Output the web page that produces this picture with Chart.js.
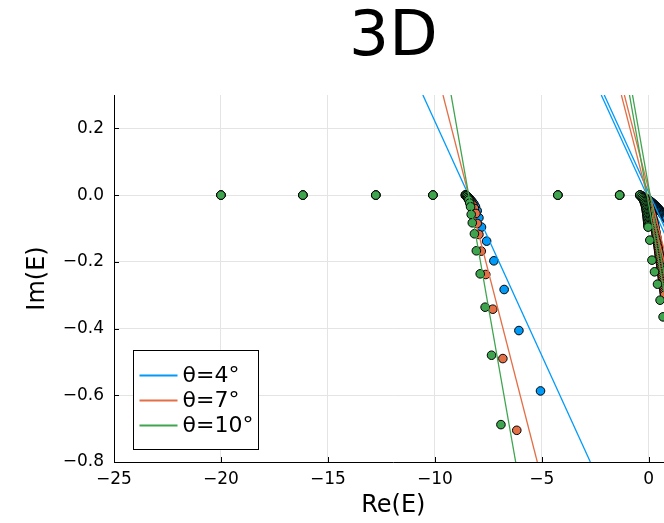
<!DOCTYPE html>
<html>
<head>
<meta charset="utf-8">
<title>3D</title>
<script src="https://cdn.jsdelivr.net/npm/chart.js@4.4.1/dist/chart.umd.min.js"></script>
<style>
  body { margin: 0; overflow: hidden; background: #fff; }
  #wrap { position: relative; width: 678px; height: 523px; }
</style>
</head>
<body>
<div id="wrap"><canvas id="spectrum"></canvas></div>
<script>
// series
const seriesLabels = ['θ=4°', 'θ=7°', 'θ=10°'];
const seriesColors = ['#009af9', '#e36f47', '#3ea44e'];

// bound states on the real axis (same for every angle)
const boundRe = [-20.0, -16.17, -12.76, -10.09, -4.25, -1.36];
const boundIm = [0, 0, 0, 0, 0, 0];

// rotated continuum eigenvalues, theta = 4
const th4Re = [-8.57, -8.55, -8.52, -8.49, -8.45, -8.41, -8.36, -8.30, -8.24, -8.17, -8.10, -8.02, -7.94, -7.82, -7.58, -7.24, -6.76, -6.07, -5.06,
               -0.42, -0.395, -0.37, -0.345, -0.32, -0.295, -0.27, -0.245, -0.22, -0.195, -0.17, -0.145, -0.12, -0.095, -0.07, -0.045, -0.02,
               0.005, 0.03, 0.055, 0.08, 0.105, 0.13, 0.155, 0.18, 0.205, 0.23, 0.255, 0.28, 0.305, 0.33, 0.355, 0.38, 0.405, 0.43, 0.455,
               0.48, 0.505, 0.53, 0.555, 0.58, 0.605, 0.63, 0.655, 0.68, 0.705, 0.73, 0.755, 0.78, 0.805, 0.83, 0.90, 0.98, 1.08];
const th4Im = [0, -0.001, -0.002, -0.004, -0.006, -0.009, -0.012, -0.016, -0.021, -0.027, -0.035, -0.047, -0.068, -0.096, -0.138, -0.197, -0.283, -0.406, -0.587,
               0, -0.001, -0.001, -0.002, -0.003, -0.004, -0.005, -0.006, -0.007, -0.008, -0.009, -0.010, -0.011, -0.012, -0.013, -0.014, -0.015,
               -0.016, -0.017, -0.018, -0.019, -0.020, -0.022, -0.023, -0.024, -0.026, -0.027, -0.029, -0.030, -0.032, -0.033, -0.035, -0.036, -0.038, -0.040, -0.042,
               -0.043, -0.045, -0.047, -0.049, -0.051, -0.053, -0.055, -0.057, -0.059, -0.061, -0.063, -0.065, -0.067, -0.069, -0.071, -0.078, -0.088, -0.100];

// theta = 7
const th7Re = [-8.57, -8.55, -8.52, -8.49, -8.45, -8.40, -8.35, -8.29, -8.22, -8.15, -8.08, -8.02, -7.94, -7.83, -7.62, -7.29, -6.82, -6.17,
               -0.42, -0.31, -0.22, -0.16, -0.10, -0.06, -0.02, 0.02, 0.05, 0.08, 0.10, 0.13, 0.15, 0.17, 0.19, 0.21, 0.23, 0.25, 0.27, 0.28,
               0.30, 0.31, 0.33, 0.34, 0.35, 0.37, 0.38, 0.39, 0.40, 0.42, 0.43, 0.44, 0.45, 0.46, 0.47, 0.48, 0.49, 0.50, 0.51, 0.53,
               0.54, 0.55, 0.56, 0.57, 0.58, 0.59, 0.60, 0.61, 0.62, 0.63, 0.64, 0.65, 0.66, 0.67, 0.68, 0.69, 0.70, 0.71, 0.72, 0.73, 0.74];
const th7Im = [0, -0.001, -0.003, -0.005, -0.008, -0.012, -0.017, -0.023, -0.030, -0.040, -0.055, -0.085, -0.118, -0.168, -0.238, -0.342, -0.490, -0.705,
               0, -0.005, -0.010, -0.015, -0.020, -0.025, -0.030, -0.035, -0.040, -0.045, -0.050, -0.055, -0.060, -0.065, -0.070, -0.075, -0.080, -0.085, -0.090, -0.095,
               -0.100, -0.105, -0.110, -0.115, -0.120, -0.125, -0.130, -0.135, -0.140, -0.145, -0.150, -0.155, -0.160, -0.165, -0.170, -0.175, -0.180, -0.185, -0.190, -0.195,
               -0.200, -0.205, -0.210, -0.215, -0.220, -0.225, -0.230, -0.235, -0.240, -0.245, -0.250, -0.255, -0.260, -0.265, -0.270, -0.275, -0.280, -0.285, -0.290, -0.295, -0.300];

// theta = 10
const th10Re = [-8.57, -8.54, -8.50, -8.47, -8.44, -8.41, -8.37, -8.33, -8.30, -8.25, -8.15, -8.06, -7.88, -7.65, -7.35, -6.91,
                -0.42, -0.36, -0.31, -0.27, -0.24, -0.21, -0.19, -0.17, -0.155, -0.14, -0.13, -0.12, -0.11, -0.10, -0.09, -0.08, -0.075,
                -0.07, -0.06, -0.055, -0.05, -0.045, -0.04, -0.035, -0.03, 0.05, 0.15, 0.27, 0.41, 0.53, 0.67, 0.98, 1.20];
const th10Im = [0, -0.001, -0.003, -0.007, -0.011, -0.015, -0.024, -0.035, -0.058, -0.083, -0.116, -0.167, -0.236, -0.336, -0.480, -0.688,
                0, -0.004, -0.008, -0.012, -0.016, -0.020, -0.024, -0.028, -0.032, -0.036, -0.040, -0.044, -0.048, -0.052, -0.056, -0.060, -0.064,
                -0.068, -0.072, -0.076, -0.080, -0.084, -0.088, -0.092, -0.096, -0.135, -0.195, -0.230, -0.267, -0.315, -0.365, -0.430, -0.500];

// rotated cut lines: Re at Im = 0.3 and Im = -0.8
const lineIm = [0.3, -0.8];
const cut4Re = [[-10.56, -2.73], [-2.22, 5.61], [-2.08, 5.75]];
const cut7Re = [[-9.62, -5.21], [-1.28, 3.13], [-1.14, 3.27]];
const cut10Re = [[-9.24, -6.22], [-0.90, 2.12], [-0.76, 2.26]];

const xTicks = [-25, -20, -15, -10, -5, 0];
const yTicks = [-0.8, -0.6, -0.4, -0.2, 0.0, 0.2];

const fmt = (v, d) => (v < -1e-9 ? '\u2212' : '') + Math.abs(v).toFixed(d);

const pointSets = [[th4Re, th4Im], [th7Re, th7Im], [th10Re, th10Im]];
const cutSets = [cut4Re, cut7Re, cut10Re];

// later datasets go on top (lower order is drawn last)
const datasets = [];
seriesLabels.forEach((label, i) => {
    const re = boundRe.concat(pointSets[i][0]);
    const im = boundIm.concat(pointSets[i][1]);
    datasets.push({
        label: '',
        data: re.map((x, k) => ({ x: x, y: im[k] })),
        backgroundColor: seriesColors[i],
        borderColor: '#000',
        borderWidth: 1,
        pointRadius: 4.3,
        order: -datasets.length
    });
    cutSets[i].forEach(seg => {
        datasets.push({
            label: label,
            data: seg.map((x, k) => ({ x: x, y: lineIm[k] })),
            showLine: true,
            borderColor: seriesColors[i],
            borderWidth: 1.3,
            pointRadius: 0,
            order: -datasets.length
        });
    });
});

// small ticks pointing into the plot
const innerTicks = {
    id: 'innerTicks',
    beforeDatasetsDraw(chart) {
        const { ctx, chartArea: a, scales: { x, y } } = chart;
        ctx.save();
        ctx.strokeStyle = '#000';
        ctx.lineWidth = 1;
        ctx.beginPath();
        xTicks.forEach(v => {
            const px = Math.round(x.getPixelForValue(v)) + 0.5;
            ctx.moveTo(px, a.bottom);
            ctx.lineTo(px, a.bottom - 5);
        });
        yTicks.forEach(v => {
            const py = Math.round(y.getPixelForValue(v)) + 0.5;
            ctx.moveTo(a.left, py);
            ctx.lineTo(a.left + 5, py);
        });
        ctx.stroke();
        ctx.restore();
    }
};

// framed legend in the lower left corner
const boxLegend = {
    id: 'boxLegend',
    afterDraw(chart) {
        const { ctx, chartArea: a } = chart;
        const w = 125, h = 99;
        const x0 = Math.round(a.left + 19) + 0.5;
        const y0 = Math.round(a.bottom - 13 - h) + 0.5;
        ctx.save();
        ctx.fillStyle = '#fff';
        ctx.fillRect(x0, y0, w, h);
        ctx.strokeStyle = '#000';
        ctx.lineWidth = 1;
        ctx.strokeRect(x0, y0, w, h);
        ctx.font = '22px "DejaVu Sans"';
        ctx.textBaseline = 'middle';
        ctx.fillStyle = '#000';
        seriesLabels.forEach((label, i) => {
            const yy = y0 + 25 * (i + 1);
            ctx.strokeStyle = seriesColors[i];
            ctx.lineWidth = 2;
            ctx.beginPath();
            ctx.moveTo(x0 + 6, yy);
            ctx.lineTo(x0 + 44, yy);
            ctx.stroke();
            ctx.fillText(label, x0 + 49, yy + 1);
        });
        ctx.restore();
    }
};

Chart.defaults.font.family = '"DejaVu Sans"';
Chart.defaults.color = '#000';

const ctx = document.getElementById('spectrum').getContext('2d');
const spectrumChart = new Chart(ctx, {
    type: 'scatter',
    data: { datasets: datasets },
    options: {
        responsive: true,
        maintainAspectRatio: false,
        animation: false,
        events: [],
        layout: { padding: 0 },
        plugins: {
            legend: { display: false },
            tooltip: { enabled: false },
            title: {
                display: true,
                text: '3D',
                fullSize: false,
                color: '#000',
                font: { size: 63, weight: 'normal', lineHeight: 1 },
                padding: { top: 7, bottom: 25 }
            }
        },
        scales: {
            x: {
                type: 'linear',
                min: -25,
                max: 1.12,
                afterBuildTicks: s => { s.ticks = xTicks.map(v => ({ value: v })); },
                afterFit: s => { s.height = 61; },
                ticks: { font: { size: 17 }, padding: 7, maxRotation: 0, autoSkip: false, callback: v => fmt(v, 0) },
                grid: { color: '#e4e4e4', drawTicks: false },
                border: { color: '#000', width: 1 },
                title: { display: true, text: 'Re(E)', font: { size: 24 }, padding: { top: 0, bottom: 3 } }
            },
            y: {
                type: 'linear',
                min: -0.8,
                max: 0.3,
                afterBuildTicks: s => { s.ticks = yTicks.map(v => ({ value: v })); },
                afterFit: s => { s.width = 114; },
                ticks: { font: { size: 17 }, padding: 10, autoSkip: false, callback: v => fmt(v, 1) },
                grid: { color: '#e4e4e4', drawTicks: false },
                border: { color: '#000', width: 1 },
                title: { display: true, text: 'Im(E)', font: { size: 24 }, padding: { top: 23, bottom: 0 } }
            }
        }
    },
    plugins: [innerTicks, boxLegend]
});
</script>
</body>
</html>
